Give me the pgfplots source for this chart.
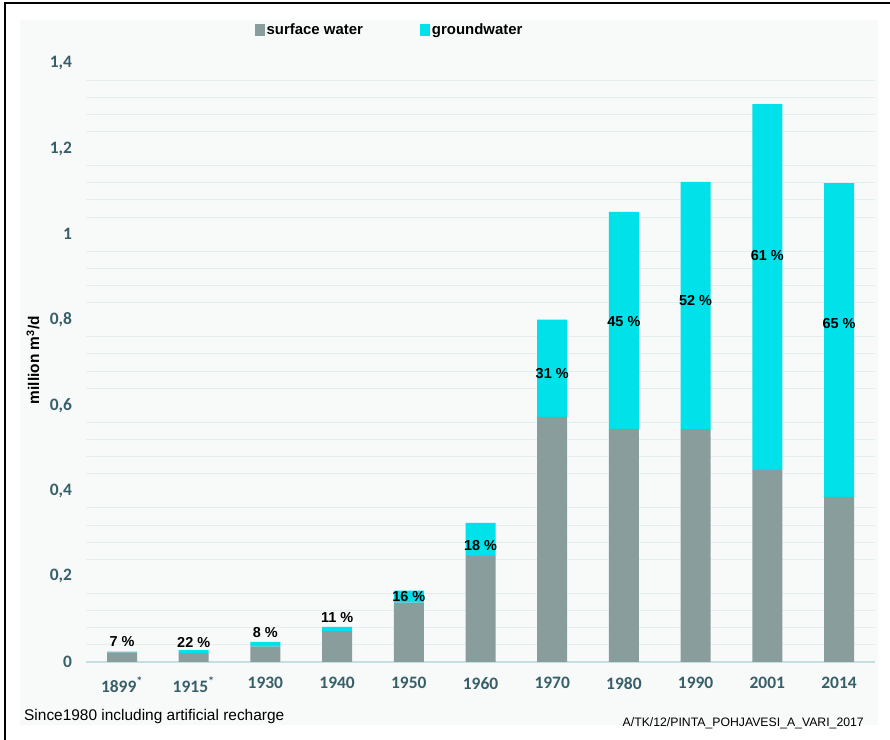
\documentclass[border=0pt]{standalone}
\usepackage{pgfplots}
\pgfplotsset{compat=1.18}
\usepackage{fontspec}
\setmainfont{Liberation Sans}
\newfontfamily\calibri{Carlito}

\definecolor{surf}{RGB}{137,157,156}
\definecolor{ground}{RGB}{0,225,233}
\definecolor{panel}{RGB}{248,249,249}
\definecolor{gridc}{RGB}{228,238,239}
\definecolor{basec}{RGB}{196,222,226}
\definecolor{tickc}{RGB}{55,95,105}

\newcommand{\pct}{\bfseries\fontsize{14.5}{16}\selectfont}

\begin{document}
\begin{tikzpicture}
\path[use as bounding box] (0,0) rectangle (890bp,740bp);
\fill[white] (0,0) rectangle (890bp,740bp);
\fill[panel] (20bp,15bp) rectangle (878bp,720bp);
\draw[black, line width=2bp] (5bp,0) -- (5bp,737bp) -- (890bp,737bp);

\begin{axis}[
  at={(86.15bp,78bp)}, anchor=south west,
  scale only axis, width=788.7bp, height=599bp,
  ybar stacked, bar width=30bp,
  xmin=-0.5, xmax=10.5, ymin=0, ymax=1.4,
  axis lines=left, axis line style={-},
  y axis line style={draw=none},
  x axis line style={draw=basec, line width=1.5bp},
  major tick length=0pt, minor tick length=0pt,
  xtick={0,1,2,3,4,5,6,7,8,9,10},
  xticklabels={1899\textsuperscript{*},1915\textsuperscript{*},1930,1940,1950,1960,1970,1980,1990,2001,2014},
  ytick={0,0.2,0.4,0.6,0.8,1,1.2,1.4},
  yticklabels={0,{0,2},{0,4},{0,6},{0,8},1,{1,2},{1,4}},
  minor y tick num=4,
  yminorgrids=true, ymajorgrids=false,
  minor grid style={draw=gridc, line width=1bp},
  ticklabel style={font=\calibri\bfseries\fontsize{17.5}{19}\selectfont, text=tickc},
  yticklabel style={inner sep=0pt, xshift=-14bp},
  xticklabel style={inner sep=0pt, yshift=-15bp},
  ylabel={million m\textsuperscript{3}/d},
  ylabel style={font=\bfseries\fontsize{15.5}{17}\selectfont, at={(axis description cs:-0.0674,0.504)}, anchor=center},
  legend columns=2,
  legend style={at={(axis description cs:0.214,1.055)}, anchor=west, draw=none, fill=none,
    font=\bfseries\fontsize{15}{17}\selectfont, inner sep=0pt,
    nodes={inner sep=1.5bp},
    /tikz/every even column/.append style={column sep=56bp}},
  legend image code/.code={\fill[#1] (0bp,-6bp) rectangle (10bp,6bp);},
]
\addplot[fill=surf, draw=none] coordinates {
  (0,0.0225) (1,0.021) (2,0.036) (3,0.072) (4,0.139) (5,0.248)
  (6,0.573) (7,0.545) (8,0.544) (9,0.449) (10,0.386)};
\addplot[fill=ground, draw=none] coordinates {
  (0,0.0018) (1,0.007) (2,0.011) (3,0.010) (4,0.028) (5,0.077)
  (6,0.227) (7,0.507) (8,0.578) (9,0.855) (10,0.733)};
\legend{surface water, groundwater}

% label positions, drawn after the axis so they sit on top of the bars
\coordinate (l0) at (axis cs:0,0.0467);
\coordinate (l1) at (axis cs:1,0.0444);
\coordinate (l2) at (axis cs:2,0.070);
\coordinate (l3) at (axis cs:3,0.103);
\coordinate (l4) at (axis cs:4,0.152);
\coordinate (l5) at (axis cs:5,0.273);
\coordinate (l6) at (axis cs:6,0.675);
\coordinate (l7) at (axis cs:7,0.795);
\coordinate (l8) at (axis cs:8,0.846);
\coordinate (l9) at (axis cs:9,0.951);
\coordinate (l10) at (axis cs:10,0.790);
\end{axis}

\foreach \n/\t in {0/7,1/22,2/8,3/11,4/16,5/18,6/31,7/45,8/52,9/61,10/65}
  \node[font=\pct] at (l\n) {\t\ \%};

\node[anchor=west, inner sep=0pt, font=\fontsize{15.5}{17}\selectfont] at (24bp,23bp) {Since1980 including artificial recharge};
\node[anchor=east, inner sep=0pt, font=\fontsize{12.3}{14}\selectfont] at (864bp,17bp) {A/TK/12/PINTA\_POHJAVESI\_A\_VARI\_2017};
\end{tikzpicture}
\end{document}
